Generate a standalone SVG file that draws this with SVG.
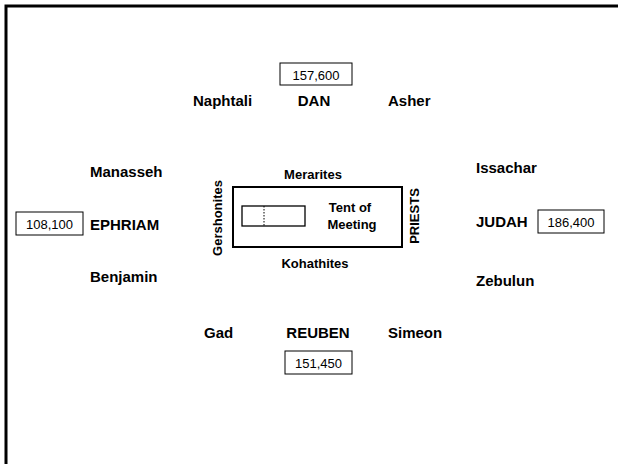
<svg xmlns="http://www.w3.org/2000/svg" width="618" height="464" viewBox="0 0 618 464">
<style>
text{font-family:"Liberation Sans",Arial,sans-serif;fill:#000}
.t{font-size:15px;font-weight:bold}
.l{font-size:13px;font-weight:bold}
.n{font-size:13px}
.box{fill:#fff;stroke:#000;stroke-width:1}
</style>
<rect x="6" y="6" width="700" height="600" fill="#fff" stroke="#000" stroke-width="3"/>
<g id="camp">
<rect x="233" y="187" width="169" height="60" fill="none" stroke="#000" stroke-width="2"/>
<rect x="242" y="206" width="63" height="20" fill="none" stroke="#000" stroke-width="1.3"/>
<line x1="264" y1="206" x2="264" y2="226" stroke="#000" stroke-width="1" stroke-dasharray="1.5,1.5"/>
</g>
<g id="tent"><text class="l" x="350" y="212" text-anchor="middle">Tent of</text><text class="l" x="352" y="229" text-anchor="middle">Meeting</text></g>
<g id="merarites"><text class="l" x="313" y="179" text-anchor="middle">Merarites</text></g>
<g id="kohathites"><text class="l" x="315" y="268" text-anchor="middle">Kohathites</text></g>
<g id="gershonites"><text class="l" transform="translate(222,218) rotate(-90)" text-anchor="middle">Gershonites</text></g>
<g id="priests"><text class="l" transform="translate(419,216) rotate(-90)" text-anchor="middle">PRIESTS</text></g>
<g id="north">
<rect class="box" x="280" y="63" width="72" height="22"/>
<text class="n" x="316" y="80" text-anchor="middle">157,600</text>
<text class="t" x="193" y="106">Naphtali</text>
<text class="t" x="314" y="106" text-anchor="middle">DAN</text>
<text class="t" x="388" y="106">Asher</text>
</g>
<g id="west">
<rect class="box" x="16" y="212" width="67" height="23"/>
<text class="n" x="49.5" y="229" text-anchor="middle">108,100</text>
<text class="t" x="90" y="177">Manasseh</text>
<text class="t" x="90" y="230">EPHRIAM</text>
<text class="t" x="90" y="282">Benjamin</text>
</g>
<g id="east">
<rect class="box" x="538" y="210" width="66" height="23"/>
<text class="n" x="571" y="227" text-anchor="middle">186,400</text>
<text class="t" x="476" y="173">Issachar</text>
<text class="t" x="476" y="227">JUDAH</text>
<text class="t" x="476" y="286">Zebulun</text>
</g>
<g id="south">
<rect class="box" x="285" y="351" width="67" height="23"/>
<text class="n" x="318.5" y="368" text-anchor="middle">151,450</text>
<text class="t" x="204" y="338">Gad</text>
<text class="t" x="318" y="338" text-anchor="middle">REUBEN</text>
<text class="t" x="388" y="338">Simeon</text>
</g>
<g id="connectors"></g>
</svg>
